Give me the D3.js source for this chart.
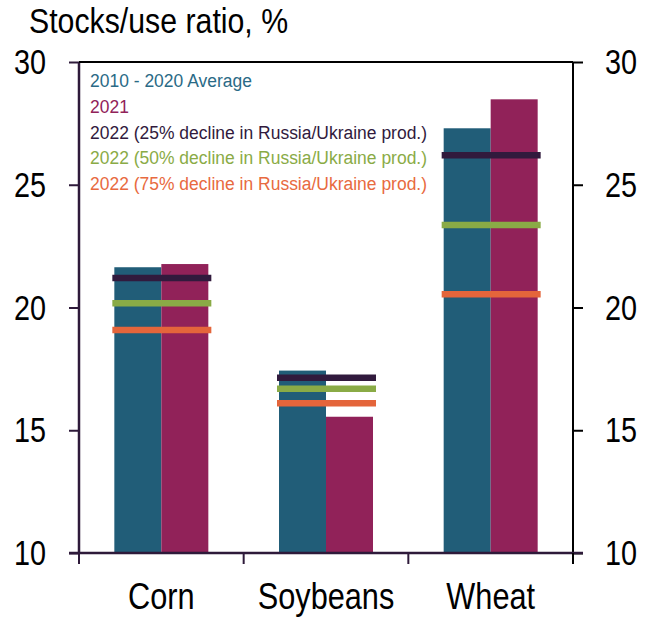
<!DOCTYPE html>
<html>
<head>
<meta charset="utf-8">
<script src="https://cdn.jsdelivr.net/npm/d3@7"></script>
<style>
  body { margin: 0; background: #fff; }
  svg text { font-family: "Liberation Sans Narrow", "Arial Narrow", "Liberation Sans", Arial, sans-serif; }
</style>
</head>
<body>
<svg id="chart" width="651" height="618"></svg>
<script>
const categories = ['Corn', 'Soybeans', 'Wheat'];
const avg2010_2020 = [21.64, 17.43, 27.3];
const y2021 = [21.77, 15.55, 28.48];
const decline25 = [21.2, 17.14, 26.2];
const decline50 = [20.17, 16.69, 23.36];
const decline75 = [19.08, 16.1, 20.54];
const yTicks = [10, 15, 20, 25, 30];

const legendLabels = [
  '2010 - 2020 Average',
  '2021',
  '2022 (25% decline in Russia/Ukraine prod.)',
  '2022 (50% decline in Russia/Ukraine prod.)',
  '2022 (75% decline in Russia/Ukraine prod.)'
];

const colors = {
  avg: '#215d78', y21: '#912259', d25: '#311a3d', d50: '#8aab46', d75: '#e4653b'
};
const legendColors = ['#2a6a86', '#912259', '#311a3d', '#8aab46', '#e86a40'];
const axisPurple = '#2e1a3a';

const svg = d3.select('svg#chart'),
  plotLeft = 79, plotRight = 573, plotTop = 62, plotBottom = 553;

// no narrow face installed, so squeeze the regular one
function narrow(sel, k, origin) {
  sel.style('transform-box', 'fill-box')
    .style('transform-origin', origin)
    .style('transform', `scaleX(${k})`);
}

const x = d3.scaleBand().domain(categories).range([plotLeft, plotRight]).paddingInner(0).paddingOuter(0);
const y = d3.scaleLinear().domain([10, 30]).range([plotBottom, plotTop]);
const sub = d3.scaleBand().domain(['avg', 'y21']).range([-47, 47]);

// title
svg.append('text')
  .attr('x', 29).attr('y', 33)
  .attr('font-size', 35)
  .attr('fill', '#000')
  .text('Stocks/use ratio, %')
  .call(narrow, 0.865, 'left center');

// bars
const barSeries = [['avg', avg2010_2020], ['y21', y2021]];
barSeries.forEach(([key, vals]) => {
  svg.append('g').selectAll('rect')
    .data(categories)
    .enter()
    .append('rect')
    .attr('x', (c) => x(c) + x.bandwidth() / 2 + sub(key))
    .attr('y', (c, i) => y(vals[i]))
    .attr('width', sub.bandwidth())
    .attr('height', (c, i) => plotBottom - y(vals[i]))
    .style('fill', colors[key]);
});

// decline markers
const lineSeries = [['d25', decline25], ['d50', decline50], ['d75', decline75]];
lineSeries.forEach(([key, vals]) => {
  svg.append('g').selectAll('line')
    .data(categories)
    .enter()
    .append('line')
    .attr('x1', (c) => x(c) + x.bandwidth() / 2 - 49)
    .attr('x2', (c) => x(c) + x.bandwidth() / 2 + 50)
    .attr('y1', (c, i) => y(vals[i]))
    .attr('y2', (c, i) => y(vals[i]))
    .attr('stroke', colors[key])
    .attr('stroke-width', 6.5);
});

// left axis
const gl = svg.append('g')
  .attr('transform', `translate(${plotLeft},0)`)
  .call(d3.axisLeft(y).tickValues(yTicks).tickSize(10).tickPadding(23));
gl.select('.domain').remove();
gl.selectAll('line').attr('stroke', axisPurple).attr('stroke-width', 2);
gl.selectAll('text').attr('font-size', 36).attr('fill', '#000').call(narrow, 0.8, 'right center');
svg.append('line').attr('x1', plotLeft).attr('x2', plotLeft).attr('y1', plotTop).attr('y2', plotBottom)
  .attr('stroke', axisPurple).attr('stroke-width', 2.5);

// right axis
const gr = svg.append('g')
  .attr('transform', `translate(${plotRight},0)`)
  .call(d3.axisRight(y).tickValues(yTicks).tickSize(10).tickPadding(22));
gr.select('.domain').remove();
gr.selectAll('line').attr('stroke', '#000').attr('stroke-width', 2);
gr.selectAll('text').attr('font-size', 36).attr('fill', '#000').call(narrow, 0.8, 'left center');
svg.append('line').attr('x1', plotRight).attr('x2', plotRight).attr('y1', plotTop).attr('y2', plotBottom)
  .attr('stroke', '#000').attr('stroke-width', 2);

// top border
svg.append('line').attr('x1', plotLeft).attr('x2', plotRight).attr('y1', plotTop).attr('y2', plotTop)
  .attr('stroke', '#000').attr('stroke-width', 2);

// bottom axis
const gb = svg.append('g')
  .attr('transform', `translate(0,${plotBottom})`)
  .call(d3.axisBottom(x).tickSize(0).tickPadding(30));
gb.select('.domain').remove();
gb.selectAll('text').attr('font-size', 37).attr('fill', '#000').call(narrow, 0.83, 'center');
svg.append('line').attr('x1', plotLeft - 10).attr('x2', plotRight + 10).attr('y1', plotBottom).attr('y2', plotBottom)
  .attr('stroke', axisPurple).attr('stroke-width', 2.5);
const bounds = categories.map(c => x(c)).concat([x.range()[1]]);
svg.append('g').selectAll('line')
  .data(bounds)
  .enter()
  .append('line')
  .attr('x1', d => d).attr('x2', d => d)
  .attr('y1', plotBottom).attr('y2', plotBottom + 11)
  .attr('stroke', (d, i) => i === bounds.length - 1 ? '#000' : axisPurple)
  .attr('stroke-width', 2);

// legend
svg.append('g').selectAll('text')
  .data(legendLabels)
  .enter()
  .append('text')
  .attr('x', 90)
  .attr('y', (d, i) => 87 + i * 25.8)
  .attr('font-size', 19)
  .attr('fill', (d, i) => legendColors[i])
  .text(d => d)
  .call(narrow, 0.92, 'left center');
</script>
</body>
</html>
